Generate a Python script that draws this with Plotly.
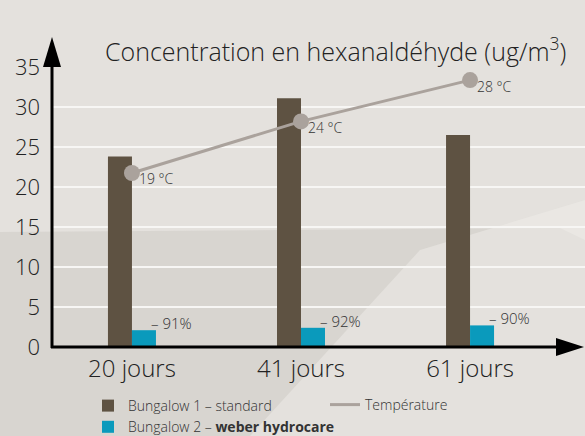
import plotly.graph_objects as go

categories = ["20 jours", "41 jours", "61 jours"]
bungalow1 = [23.8, 31.1, 26.5]
bungalow2 = [2.1, 2.4, 2.7]
reductions = ["– 91%", "– 92%", "– 90%"]
temperatures = [19, 24, 28]
temp_labels = ["19 °C", "24 °C", "28 °C"]

BROWN = "#5e5242"
BLUE = "#0a9abc"
GREY = "#aaa29c"
FONT = "Open Sans, sans-serif"

# plot area in pixels: x 52..585, y 67..347
L, R, T, B = 52, 585, 67, 347


def px(x):
    return (x - L) / (R - L)


def py(y):
    return (B - y) / (B - T)


fig = go.Figure()
fig.add_trace(go.Bar(
    x=categories, y=bungalow1, name="Bungalow 1 – standard",
    marker=dict(color=BROWN, line=dict(width=0)), legend="legend",
))
fig.add_trace(go.Bar(
    x=categories, y=bungalow2, name="Bungalow 2 – <b>weber hydrocare</b>",
    marker=dict(color=BLUE, line=dict(width=0)), legend="legend",
))
fig.add_trace(go.Scatter(
    x=categories, y=temperatures, name="Température", yaxis="y2",
    mode="lines", line=dict(color=GREY, width=3), legend="legend2",
))
fig.add_trace(go.Scatter(
    x=categories, y=temperatures, yaxis="y2", mode="markers",
    marker=dict(color=GREY, size=16), showlegend=False,
))

annotations = [dict(
    text="Concentration en hexanaldéhyde (ug/m<sup>3</sup>)",
    xref="paper", yref="paper", x=px(335), y=py(29),
    showarrow=False, font=dict(size=25, color="#222", weight=300),
)]
for c, v, t in zip(categories, bungalow2, reductions):
    annotations.append(dict(
        text=t, x=c, y=v, xref="x", yref="y", xanchor="left", yanchor="bottom",
        xshift=17, yshift=-5, showarrow=False, font=dict(size=15, color="#333", weight=300),
    ))
for c, v, t in zip(categories, temperatures, temp_labels):
    annotations.append(dict(
        text=t, x=c, y=v, xref="x", yref="y2", xanchor="left", yanchor="middle",
        xshift=5, yshift=-6, showarrow=False, font=dict(size=14, color="#333", weight=300),
    ))

shapes = [
    # soft background bands
    dict(type="path", xref="paper", yref="paper", layer="below", line=dict(width=0),
         fillcolor="rgba(190,186,180,0.3)",
         path=f"M {px(0)} {py(232)} L {px(560)} {py(228)} L {px(585)} {py(240)} L {px(585)} {py(436)} L {px(0)} {py(436)} Z"),
    dict(type="path", xref="paper", yref="paper", layer="below", line=dict(width=0),
         fillcolor="rgba(240,237,233,0.5)",
         path=f"M {px(250)} {py(436)} L {px(420)} {py(250)} L {px(585)} {py(200)} L {px(585)} {py(436)} Z"),
    # axes with arrows
    dict(type="line", xref="paper", yref="paper", x0=px(52), x1=px(52), y0=py(348), y1=py(62),
         line=dict(color="black", width=3)),
    dict(type="path", xref="paper", yref="paper", fillcolor="black", line=dict(width=0),
         path=f"M {px(43)} {py(67)} L {px(52)} {py(37)} L {px(61)} {py(67)} Z"),
    dict(type="line", xref="paper", yref="paper", x0=px(51), x1=px(560), y0=py(347), y1=py(347),
         line=dict(color="black", width=3)),
    dict(type="path", xref="paper", yref="paper", fillcolor="black", line=dict(width=0),
         path=f"M {px(556)} {py(338)} L {px(584)} {py(347)} L {px(556)} {py(356)} Z"),
]

fig.update_layout(
    width=585, height=436,
    margin=dict(l=L, r=585 - R, t=T, b=436 - B, autoexpand=False),
    paper_bgcolor="#e4e1dd", plot_bgcolor="rgba(0,0,0,0)",
    font=dict(family=FONT, color="#222", weight=300),
    barmode="group", bargap=0.716, bargroupgap=0,
    xaxis=dict(range=[-0.473, 2.68], showgrid=False, showline=False, zeroline=False,
               tickfont=dict(size=24, color="#222", weight=300), ticks="", ticklabelstandoff=5),
    yaxis=dict(range=[0, 35], tickvals=[0, 5, 10, 15, 20, 25, 30, 35],
               showgrid=True, gridcolor="#f7f6f4", gridwidth=2, zeroline=False, showline=False,
               tickfont=dict(size=22, color="#222", weight=300), ticks="", ticklabelstandoff=11),
    yaxis2=dict(range=[2.14, 29.27], overlaying="y", visible=False),
    legend=dict(x=px(88), y=py(390), xanchor="left", yanchor="top",
                bgcolor="rgba(0,0,0,0)", font=dict(size=14, color="#333", weight=300),
                tracegroupgap=0, itemwidth=30),
    legend2=dict(x=px(325), y=py(389), xanchor="left", yanchor="top",
                 bgcolor="rgba(0,0,0,0)", font=dict(size=14, color="#333", weight=300)),
    annotations=annotations, shapes=shapes, showlegend=True,
)

fig.write_html("out.html", config={"displayModeBar": False},
               post_script="document.body.style.margin='0';")
